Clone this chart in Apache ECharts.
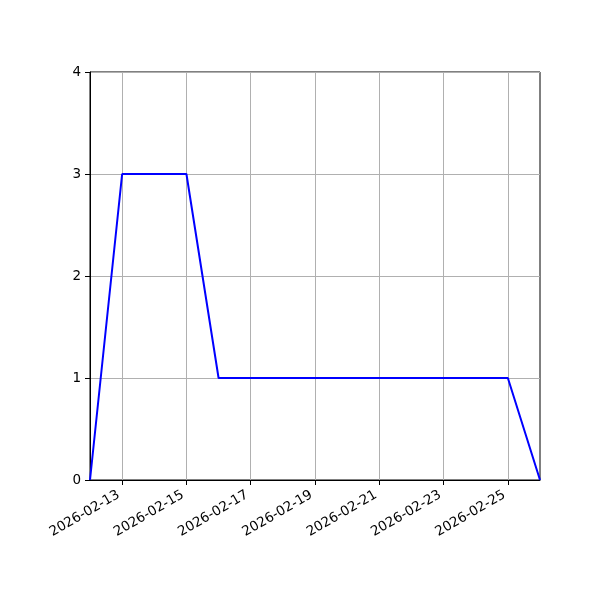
<!DOCTYPE html>
<html>
<head>
<meta charset="utf-8">
<script src="https://cdn.jsdelivr.net/npm/echarts@6/dist/echarts.min.js"></script>
<style>
  html, body { margin: 0; padding: 0; background: #fff; }
  #chart { width: 600px; height: 600px; }
</style>
</head>
<body>
<div id="chart"></div>
<script>
// dates along the x axis, one per day
var dates = ['2026-02-12', '2026-02-13', '2026-02-14', '2026-02-15', '2026-02-16',
    '2026-02-17', '2026-02-18', '2026-02-19', '2026-02-20', '2026-02-21',
    '2026-02-22', '2026-02-23', '2026-02-24', '2026-02-25', '2026-02-26'];
var counts = [0, 3, 3, 3, 1, 1, 1, 1, 1, 1, 1, 1, 1, 1, 0];
var yTicks = [0, 1, 2, 3, 4];

// every other day gets a tick, starting with 02-13
function everyOther(index) {
    return index % 2 === 1;
}

var chart = echarts.init(document.getElementById('chart'));

chart.setOption({
    animation: false,
    backgroundColor: '#fff',
    textStyle: { fontFamily: 'DejaVu Sans' },
    grid: {
        left: 90,
        right: 60,
        top: 72,
        bottom: 120,
        show: true,
        borderColor: '#000',
        borderWidth: 1,
        backgroundColor: 'transparent'
    },
    xAxis: {
        type: 'category',
        data: dates,
        boundaryGap: false,
        axisLine: { lineStyle: { color: '#000', width: 1 } },
        axisTick: {
            interval: everyOther,
            length: 5,
            lineStyle: { color: '#000' }
        },
        axisLabel: {
            interval: everyOther,
            rotate: 30,
            color: '#000',
            fontSize: 13.5,
            margin: 12,
            padding: [0, 4, 0, 0]
        },
        splitLine: {
            show: true,
            interval: everyOther,
            lineStyle: { color: '#b0b0b0', width: 1 }
        }
    },
    yAxis: {
        type: 'value',
        min: yTicks[0],
        max: yTicks[yTicks.length - 1],
        interval: 1,
        axisLine: { show: true, lineStyle: { color: '#000', width: 1 } },
        axisTick: { show: true, length: 5, lineStyle: { color: '#000' } },
        axisLabel: { color: '#000', fontSize: 13.5, margin: 9 },
        splitLine: {
            show: true,
            lineStyle: { color: '#b0b0b0', width: 1 }
        }
    },
    series: [{
        type: 'line',
        data: counts,
        symbol: 'none',
        lineStyle: { color: '#0000ff', width: 2 },
        itemStyle: { color: '#0000ff' }
    }]
});
</script>
</body>
</html>
